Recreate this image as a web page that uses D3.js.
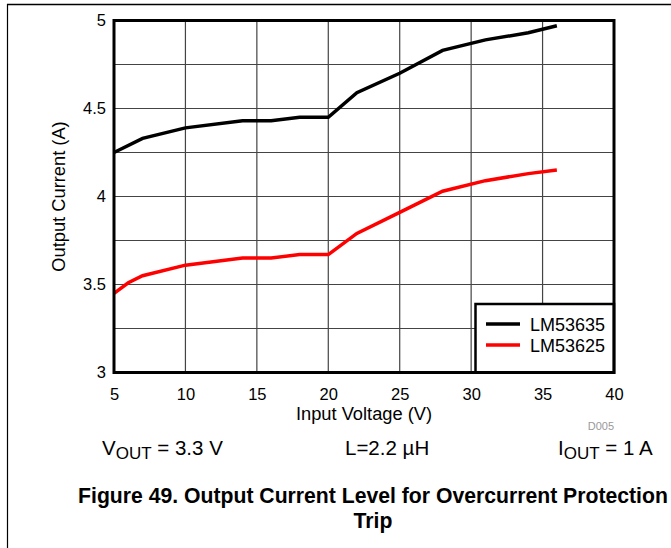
<!DOCTYPE html>
<html><head><meta charset="utf-8">
<script src="https://cdn.jsdelivr.net/npm/d3@7"></script>
<style>body{margin:0;background:#fff;}svg{display:block;font-family:"Liberation Sans",Arial,sans-serif;}</style>
</head><body>
<svg id="c" width="671" height="548"></svg>
<script>
const xTicks = [5,10,15,20,25,30,35,40];
const yTicks = [3,3.5,4,4.5,5];
const yGrid = [3.25,3.5,3.75,4,4.25,4.5,4.75];
const vinA = [5,7,10,14,16,18,20,22,25,28,31,34,36];
const lm53635 = [4.25,4.33,4.39,4.43,4.43,4.45,4.45,4.59,4.70,4.83,4.89,4.93,4.97];
const vinB = [5,6,7,10,14,16,18,20,22,25,28,31,34,36];
const lm53625 = [3.45,3.51,3.55,3.61,3.65,3.65,3.67,3.67,3.79,3.91,4.03,4.09,4.13,4.15];
const seriesNames = ["LM53635","LM53625"];
const seriesColors = ["#000000","#ff0000"];

const svg = d3.select("#c");
const L=114, R=614, T=20.5, B=372.5;
const x = d3.scaleLinear().domain([5,40]).range([L,R]);
const y = d3.scaleLinear().domain([3,5]).range([B,T]);

// frame
svg.append("line").attr("x1",7).attr("x2",671).attr("y1",4.5).attr("y2",4.5).attr("stroke","#000").attr("stroke-width",1.5);
svg.append("line").attr("x1",7.5).attr("x2",7.5).attr("y1",4).attr("y2",548).attr("stroke","#000").attr("stroke-width",1.2);

// grid
svg.append("g").selectAll("line").data(xTicks.slice(1,-1)).join("line")
  .attr("x1",d=>x(d)).attr("x2",d=>x(d)).attr("y1",T).attr("y2",B)
  .attr("stroke","#444").attr("stroke-width",1.2);
svg.append("g").selectAll("line").data(yGrid).join("line")
  .attr("x1",L).attr("x2",R).attr("y1",d=>y(d)).attr("y2",d=>y(d))
  .attr("stroke","#444").attr("stroke-width",1.2);

// axes labels
const xa = d3.axisBottom(x).tickValues(xTicks).tickSize(0).tickPadding(16).tickFormat(d3.format("d"));
const gx = svg.append("g").attr("transform",`translate(0,${B})`).call(xa);
gx.select(".domain").remove();
gx.selectAll("text").attr("font-size",16.5).attr("font-family","Liberation Sans, Arial, sans-serif").attr("fill","#000");
const ya = d3.axisLeft(y).tickValues(yTicks).tickSize(0).tickPadding(8).tickFormat(d=>String(d));
const gy = svg.append("g").attr("transform",`translate(${L},0)`).call(ya);
gy.select(".domain").remove();
gy.selectAll("text").attr("font-size",16.5).attr("font-family","Liberation Sans, Arial, sans-serif").attr("fill","#000");

// lines
const lineGen = d3.line().x(d=>x(d[0])).y(d=>y(d[1]));
const dataA = vinA.map((v,i)=>[v,lm53635[i]]);
const dataB = vinB.map((v,i)=>[v,lm53625[i]]);
svg.append("path").datum(dataA).attr("d",lineGen).attr("fill","none").attr("stroke",seriesColors[0]).attr("stroke-width",3.5);
svg.append("path").datum(dataB).attr("d",lineGen).attr("fill","none").attr("stroke",seriesColors[1]).attr("stroke-width",3.5);

// legend
const lg = svg.append("g");
lg.append("rect").attr("x",475.5).attr("y",304).attr("width",R-475.5).attr("height",B-304)
  .attr("fill","#fff").attr("stroke","#000").attr("stroke-width",2.5);
seriesNames.forEach((n,i)=>{
  const yy = 324 + i*21;
  lg.append("line").attr("x1",486).attr("x2",520).attr("y1",yy).attr("y2",yy).attr("stroke",seriesColors[i]).attr("stroke-width",3.5);
  lg.append("text").attr("x",530).attr("y",yy+7).attr("font-size",18).text(n);
});

// plot border
svg.append("rect").attr("x",L).attr("y",T).attr("width",R-L).attr("height",B-T)
  .attr("fill","none").attr("stroke","#000").attr("stroke-width",3);

// titles
svg.append("text").attr("x",(L+R)/2).attr("y",420).attr("text-anchor","middle").attr("font-size",18.3).text("Input Voltage (V)");
svg.append("text").attr("transform",`translate(65,${(T+B)/2}) rotate(-90)`).attr("text-anchor","middle").attr("font-size",18.3).text("Output Current (A)");
svg.append("text").attr("x",614).attr("y",430).attr("text-anchor","end").attr("font-size",11).attr("fill","#999").text("D005");

// conditions
const t1 = svg.append("text").attr("x",102).attr("y",455).attr("font-size",20.5);
t1.append("tspan").text("V");
t1.append("tspan").attr("font-size",17).attr("dy",4).text("OUT");
t1.append("tspan").attr("dy",-4).text(" = 3.3 V");
svg.append("text").attr("x",345).attr("y",455).attr("font-size",20.5).text("L=2.2 µH");
const t3 = svg.append("text").attr("x",558).attr("y",455).attr("font-size",20.5);
t3.append("tspan").text("I");
t3.append("tspan").attr("font-size",17).attr("dy",4).text("OUT");
t3.append("tspan").attr("dy",-4).text(" = 1 A");

// caption
svg.append("text").attr("x",373).attr("y",503).attr("text-anchor","middle").attr("font-size",21.2).attr("font-weight","bold").text("Figure 49. Output Current Level for Overcurrent Protection");
svg.append("text").attr("x",373).attr("y",528).attr("text-anchor","middle").attr("font-size",21.2).attr("font-weight","bold").text("Trip");
</script>
</body></html>
